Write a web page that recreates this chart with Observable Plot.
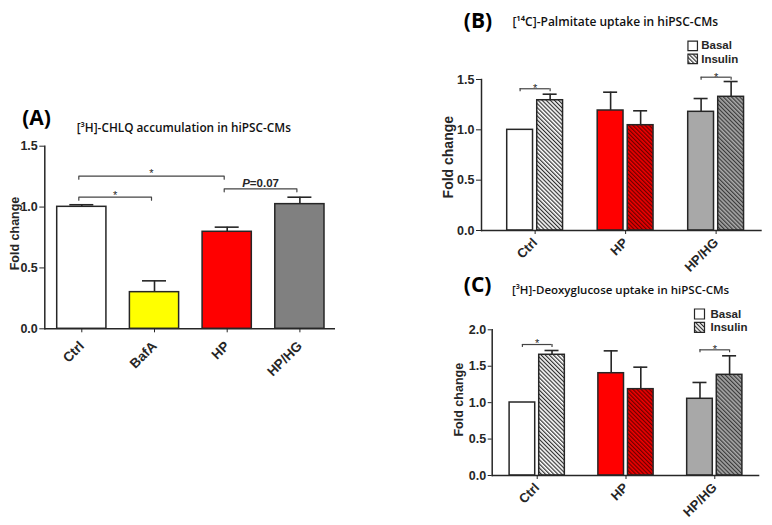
<!DOCTYPE html>
<html><head><meta charset="utf-8">
<script src="https://cdn.jsdelivr.net/npm/d3@7"></script>
<script src="https://cdn.jsdelivr.net/npm/@observablehq/plot@0.6"></script>
<style>
body{margin:0;background:#fff;}
#wrap{position:relative;width:772px;height:525px;overflow:hidden;background:#fff;}
#wrap > svg{position:absolute;}
</style></head><body>
<svg width="0" height="0" style="position:absolute">
<defs>
 <pattern id="hatch-white" patternUnits="userSpaceOnUse" width="2.9" height="2.9" patternTransform="rotate(-45)">
   <rect width="2.9" height="2.9" fill="#ffffff"/><rect width="1.2" height="2.9" fill="#303030"/>
 </pattern>
 <pattern id="hatch-red" patternUnits="userSpaceOnUse" width="2.9" height="2.9" patternTransform="rotate(-45)">
   <rect width="2.9" height="2.9" fill="#ee0000"/><rect width="1.2" height="2.9" fill="#6a0000"/>
 </pattern>
 <pattern id="hatch-gray" patternUnits="userSpaceOnUse" width="2.9" height="2.9" patternTransform="rotate(-45)">
   <rect width="2.9" height="2.9" fill="#a8a8a8"/><rect width="1.2" height="2.9" fill="#3a3a3a"/>
 </pattern>
</defs></svg>
<div id="wrap"></div>
<script>
// ---------- Panel A data ----------
const titleA = "[³H]-CHLQ accumulation in hiPSC-CMs";
const catA = ["Ctrl", "BafA", "HP", "HP/HG"];
const meanA = [1.002, 0.301, 0.797, 1.024];
const upperA = [1.019, 0.394, 0.835, 1.081];
const bracketFromA = ["Ctrl", "Ctrl", "HP"];
const bracketToA = ["BafA", "HP", "HP/HG"];
const bracketLevelA = [1.081, 1.254, 1.150];
const bracketLabelA = ["*", "*", "P=0.07"];
const ticksA = [0, 0.5, 1.0, 1.5];

// ---------- Panels B / C data ----------
const groups = ["Ctrl", "HP", "HP/HG"];
const titleB = "[¹⁴C]-Palmitate uptake in hiPSC-CMs";
const palmBasal = [1.000, 1.192, 1.179];
const palmBasalUpper = [null, 1.374, 1.311];
const palmInsulin = [1.294, 1.046, 1.328];
const palmInsulinUpper = [1.354, 1.189, 1.480];
const palmBracketGroups = ["Ctrl", "HP/HG"];
const palmBracketLevels = [1.408, 1.523];
const ticksB = [0, 0.5, 1.0, 1.5];

const titleC = "[³H]-Deoxyglucose uptake in hiPSC-CMs";
const dgBasal = [1.002, 1.404, 1.053];
const dgBasalUpper = [null, 1.711, 1.277];
const dgInsulin = [1.657, 1.185, 1.382];
const dgInsulinUpper = [1.716, 1.487, 1.643];
const dgBracketGroups = ["Ctrl", "HP/HG"];
const dgBracketLevels = [1.798, 1.725];
const ticksC = [0, 0.5, 1.0, 1.5, 2.0];

const legendLabels = ["Basal", "Insulin"];

// ---------- styles ----------
const fillA = ["#ffffff", "#ffff00", "#ff0000", "#808080"];
const basalFills = ["#ffffff", "#ff0000", "#a8a8a8"];
const insulinFills = ["url(#hatch-white)", "url(#hatch-red)", "url(#hatch-gray)"];
const INK = "#262626";
const FONT = "'Liberation Sans', Arial, sans-serif";
const TFONT = "'Open Sans', sans-serif";

function italicP(svg) {
  d3.select(svg).selectAll("text").each(function() {
    if (this.textContent === "P=0.07") {
      const t = d3.select(this); t.text("");
      t.append("tspan").attr("font-style", "italic").text("P");
      t.append("tspan").text("=0.07");
    }
  });
}

function panelA() {
  const W = 390, H = 300, mL = 44.3, mR = 55, mT = 55.7, mB = 61.7;
  const pi = 0.323, po = 0.161;
  const step = (W - mL - mR) / (catA.length - pi + 2 * po), bw = step * (1 - pi);
  const rows = catA.map((c, i) => ({c, m: meanA[i], u: upperA[i], f: fillA[i]}));
  const br = bracketFromA.map((f, i) => ({id: i, from: f, to: bracketToA[i], level: bracketLevelA[i], label: bracketLabelA[i]}));
  const drop = 0.025;
  const pts = br.flatMap(b => [
    {id: b.id, x: b.from, y: b.level - drop}, {id: b.id, x: b.from, y: b.level},
    {id: b.id, x: b.to, y: b.level}, {id: b.id, x: b.to, y: b.level - drop}]);
  const at = (x, y) => ({frameAnchor: "top-left", dx: x - mL, dy: y - mT});
  const svg = Plot.plot({
    width: W, height: H, marginLeft: mL, marginRight: mR, marginTop: mT, marginBottom: mB,
    style: {fontFamily: FONT, overflow: "visible", background: "transparent"},
    x: {domain: catA, paddingInner: pi, paddingOuter: po, align: 0.53, round: false},
    y: {domain: [0, 1.5]},
    color: {type: "identity"},
    marks: [
      Plot.ruleX(rows, {x: "c", y1: "m", y2: "u", stroke: INK, strokeWidth: 1.6}),
      Plot.tickY(rows, {x: "c", y: "u", insetLeft: bw / 2 - 12, insetRight: bw / 2 - 12, stroke: INK, strokeWidth: 1.6}),
      Plot.barY(rows, {x: "c", y: "m", fill: "f", stroke: INK, strokeWidth: 1.5}),
      Plot.line(pts, {x: "x", y: "y", z: "id", dx: -3, stroke: "#444", strokeWidth: 1.2}),
      ...br.map(b => Plot.text([b], {
        x: "from", y: "level", text: "label",
        dx: (catA.indexOf(b.to) - catA.indexOf(b.from)) * step / 2 - 3,
        dy: b.label === "*" ? 1.3 : -1.5, lineAnchor: "bottom",
        fontSize: b.label === "*" ? 11 : 11.5, fontWeight: b.label === "*" ? "normal" : "bold", fill: INK})),
      Plot.ruleY([0], {stroke: INK, strokeWidth: 1.5}),
      Plot.frame({anchor: "left", stroke: INK, strokeWidth: 1.5}),
      Plot.axisY({ticks: ticksA, tickFormat: d3.format(".1f"), tickSize: 5, tickPadding: 2, fontSize: 12.5, fontWeight: "bold", color: INK, label: null}),
      Plot.axisX({tickRotate: -45, tickSize: 4, tickPadding: 11, fontSize: 13.5, fontWeight: "bold", color: INK, label: null}),
      Plot.text(["(A)"], {text: d => d, ...at(21.7, 34.5), textAnchor: "start", lineAnchor: "bottom", fontFamily: TFONT, fontWeight: "bold", fontSize: 21, fill: "#000"}),
      Plot.text([titleA], {text: d => d, ...at(183.3, 41.7), textAnchor: "middle", lineAnchor: "bottom", fontFamily: TFONT, fontWeight: 600, fontSize: 11.8, fill: "#111"}),
      Plot.text(["Fold change"], {text: d => d, ...at(14.5, 143), rotate: -90, textAnchor: "middle", lineAnchor: "middle", fontSize: 12.5, fontWeight: "bold", fill: INK})
    ]
  });
  italicP(svg);
  return svg;
}

function groupedPanel(o) {
  const {W, H, mL, mR, mT, mB, pi, po} = o;
  const step = (W - mL - mR) / (groups.length - pi + 2 * po), bw = step * (1 - pi);
  const barW = (bw - o.gap) / 2, off = (bw - barW) / 2, cap = 7;
  const rows = groups.map((g, i) => ({g, b: o.basal[i], bu: o.basalUp[i], n: o.insulin[i], nu: o.insulinUp[i], bf: basalFills[i], nf: insulinFills[i]}));
  const br = o.brGroups.map((g, i) => ({g, level: o.brLevels[i]}));
  const at = (x, y) => ({frameAnchor: "top-left", dx: x - mL, dy: y - mT});
  const txt = (s, x, y, opts) => Plot.text([s], {text: d => d, ...at(x, y), ...opts});
  return Plot.plot({
    width: W, height: H, marginLeft: mL, marginRight: mR, marginTop: mT, marginBottom: mB,
    style: {fontFamily: FONT, overflow: "visible", background: "transparent"},
    x: {domain: groups, paddingInner: pi, paddingOuter: po, align: o.align, round: false},
    y: {domain: [0, o.ymax]},
    color: {type: "identity"},
    marks: [
      Plot.ruleX(rows, {x: "g", y1: "b", y2: "bu", dx: -off, stroke: INK, strokeWidth: 1.6}),
      Plot.tickY(rows, {x: "g", y: "bu", insetLeft: barW / 2 - cap, insetRight: bw - barW / 2 - cap, stroke: INK, strokeWidth: 1.6}),
      Plot.ruleX(rows, {x: "g", y1: "n", y2: "nu", dx: off, stroke: INK, strokeWidth: 1.6}),
      Plot.tickY(rows, {x: "g", y: "nu", insetLeft: bw - barW / 2 - cap, insetRight: barW / 2 - cap, stroke: INK, strokeWidth: 1.6}),
      Plot.barY(rows, {x: "g", y: "b", fill: "bf", insetRight: bw - barW, stroke: INK, strokeWidth: 1.5}),
      Plot.barY(rows, {x: "g", y: "n", fill: "nf", insetLeft: bw - barW, stroke: INK, strokeWidth: 1.5}),
      Plot.tickY(br, {x: "g", y: "level", insetLeft: barW / 2, insetRight: barW / 2, stroke: "#444", strokeWidth: 1.2}),
      Plot.ruleX(br, {x: "g", y1: d => d.level - o.drop, y2: "level", dx: -off, stroke: "#444", strokeWidth: 1.2}),
      Plot.ruleX(br, {x: "g", y1: d => d.level - o.drop, y2: "level", dx: off, stroke: "#444", strokeWidth: 1.2}),
      Plot.text(br, {x: "g", y: "level", text: () => "*", lineAnchor: "bottom", dy: o.starDy, fontSize: 11, fill: INK}),
      Plot.ruleY([0], {stroke: INK, strokeWidth: 1.5}),
      Plot.frame({anchor: "left", stroke: INK, strokeWidth: 1.5}),
      Plot.axisY({ticks: o.ticks, tickFormat: d3.format(".1f"), tickSize: o.tickSize, tickPadding: 2, fontSize: o.tickFont, fontWeight: "bold", color: INK, label: null}),
      Plot.axisX({tickRotate: -45, tickSize: 4, tickPadding: 6, fontSize: 13, fontWeight: "bold", color: INK, label: null}),
      Plot.dot([0], {...at(o.legX, o.legY1), symbol: "square", r: o.legR, fill: "#ffffff", stroke: INK, strokeWidth: 1.2}),
      Plot.dot([0], {...at(o.legX, o.legY2), symbol: "square", r: o.legR, fill: "url(#hatch-white)", stroke: INK, strokeWidth: 1.2}),
      txt(legendLabels[0], o.legTX, o.legTY1, {textAnchor: "start", lineAnchor: "bottom", fontSize: 11.5, fontWeight: "bold", fill: INK}),
      txt(legendLabels[1], o.legTX, o.legTY2, {textAnchor: "start", lineAnchor: "bottom", fontSize: 11.5, fontWeight: "bold", fill: INK}),
      txt(o.letter, o.letX, o.letY, {textAnchor: "start", lineAnchor: "bottom", fontFamily: TFONT, fontWeight: "bold", fontSize: 21, fill: "#000"}),
      txt(o.title, o.titX, o.titY, {textAnchor: "middle", lineAnchor: "bottom", fontFamily: TFONT, fontWeight: 600, fontSize: o.titFont, fill: "#111"}),
      txt("Fold change", o.ylX, o.ylY, {rotate: -90, textAnchor: "middle", lineAnchor: "middle", fontSize: o.ylFont, fontWeight: "bold", fill: INK})
    ]
  });
}

const wrap = document.getElementById("wrap");
const a = panelA();
a.style.left = "0px"; a.style.top = "90px";
wrap.appendChild(a);

const b = groupedPanel({
  W: 372, H: 268, mL: 81, mR: 10.3, mT: 79, mB: 38, pi: 0.383, po: 0.2424, align: 0.586, gap: 4.2,
  ymax: 1.5, ticks: ticksB, drop: 0.03, starDy: 3.5, tickSize: 5, tickFont: 12.5,
  basal: palmBasal, basalUp: palmBasalUpper, insulin: palmInsulin, insulinUp: palmInsulinUpper,
  brGroups: palmBracketGroups, brLevels: palmBracketLevels,
  legX: 292.2, legY1: 45.3, legY2: 58.4, legR: 5.36, legTX: 300.7, legTY1: 48.5, legTY2: 62,
  letter: "(B)", letX: 63.3, letY: 27.5, title: titleB, titX: 214.8, titY: 25.5, titFont: 12,
  ylX: 48, ylY: 156.7, ylFont: 14
});
b.style.left = "400px"; b.style.top = "0px";
wrap.appendChild(b);

const c = groupedPanel({
  W: 372, H: 257, mL: 91.7, mR: 12.7, mT: 61.3, mB: 50, pi: 0.378, po: 0.196, align: 0.5, gap: 4,
  ymax: 2.0, ticks: ticksC, drop: 0.04, starDy: 2.7, tickSize: 4, tickFont: 12.5,
  basal: dgBasal, basalUp: dgBasalUpper, insulin: dgInsulin, insulinUp: dgInsulinUpper,
  brGroups: dgBracketGroups, brLevels: dgBracketLevels,
  legX: 299, legY1: 45.5, legY2: 58.8, legR: 5.64, legTX: 310, legTY1: 49.3, legTY2: 62.7,
  letter: "(C)", letX: 63.3, letY: 23, title: titleC, titX: 220, titY: 25.2, titFont: 11.5,
  ylX: 58, ylY: 131.2, ylFont: 12.5
});
c.style.left = "400px"; c.style.top = "268px";
wrap.appendChild(c);
</script>
</body></html>
